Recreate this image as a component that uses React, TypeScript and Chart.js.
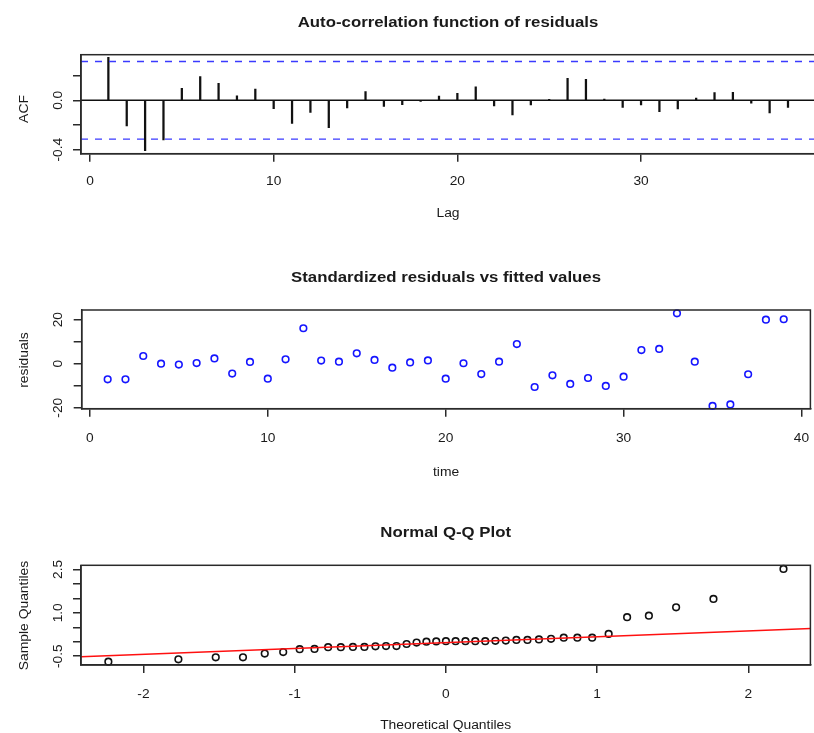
import React, { useEffect, useRef } from "react";
import { Chart, registerables } from "chart.js";

Chart.register(...registerables);

// ---------------- DATA ----------------
const acfLags = [1, 2, 3, 4, 5, 6, 7, 8, 9, 10, 11, 12, 13, 14, 15, 16, 17, 18, 19, 20, 21, 22, 23, 24, 25, 26, 27, 28, 29, 30, 31, 32, 33, 34, 35, 36, 37, 38];
const acfValues = [0.348, -0.208, -0.408, -0.321, 0.097, 0.191, 0.138, 0.037, 0.091, -0.068, -0.186, -0.097, -0.222, -0.062, 0.07, -0.049, -0.036, -0.01, 0.035, 0.057, 0.11, -0.046, -0.119, -0.038, 0.008, 0.178, 0.17, 0.01, -0.057, -0.038, -0.092, -0.07, 0.019, 0.062, 0.065, -0.024, -0.103, -0.057];
const acfConfLimit = 0.314;
const acfXTicks = [0, 10, 20, 30];
const acfXTickLabels = ["0", "10", "20", "30"];
const acfYTicks = [-0.4, -0.2, 0, 0.2];
const acfYTickLabels = ["-0.4", "", "0.0", ""];

const timeIndex = [1, 2, 3, 4, 5, 6, 7, 8, 9, 10, 11, 12, 13, 14, 15, 16, 17, 18, 19, 20, 21, 22, 23, 24, 25, 26, 27, 28, 29, 30, 31, 32, 33, 34, 35, 36, 37, 38, 39];
const residualValues = [-7.1, -7.1, 3.5, 0.0, -0.4, 0.3, 2.4, -4.5, 0.8, -6.8, 2.0, 16.1, 1.4, 0.9, 4.7, 1.7, -1.8, 0.6, 1.5, -6.8, 0.2, -4.7, 0.9, 8.9, -10.6, -5.3, -9.2, -6.5, -10.1, -5.9, 6.2, 6.7, 22.9, 0.9, -19.2, -18.5, -4.8, 20.0, 20.2];
const residXTicks = [0, 10, 20, 30, 40];
const residXTickLabels = ["0", "10", "20", "30", "40"];
const residYTicks = [-20, -10, 0, 10, 20];
const residYTickLabels = ["-20", "", "0", "", "20"];

const qqTheoretical = [-2.232, -1.769, -1.522, -1.342, -1.198, -1.076, -0.967, -0.869, -0.779, -0.695, -0.615, -0.539, -0.466, -0.396, -0.327, -0.26, -0.194, -0.129, -0.064, 0, 0.064, 0.129, 0.194, 0.26, 0.327, 0.396, 0.466, 0.539, 0.615, 0.695, 0.779, 0.869, 0.967, 1.076, 1.198, 1.342, 1.522, 1.769, 2.232];
const qqSample = [-0.69, -0.61, -0.54, -0.54, -0.41, -0.36, -0.26, -0.25, -0.19, -0.19, -0.18, -0.18, -0.16, -0.15, -0.15, -0.08, -0.03, 0.0, 0.01, 0.02, 0.02, 0.02, 0.02, 0.02, 0.03, 0.04, 0.06, 0.06, 0.08, 0.1, 0.14, 0.14, 0.14, 0.27, 0.85, 0.9, 1.19, 1.48, 2.52];
const qqLineX = [-2.5, 2.5];
const qqLineY = [-0.535, 0.475];
const qqXTicks = [-2, -1, 0, 1, 2];
const qqXTickLabels = ["-2", "-1", "0", "1", "2"];
const qqYTicks = [-0.5, 0, 0.5, 1, 1.5, 2, 2.5];
const qqYTickLabels = ["-0.5", "", "", "1.0", "", "", "2.5"];

// ---------------- STYLE / LAYOUT ----------------
const W = 816;
const AX = "#2a2a2a";
const TXT = "#1a1a1a";
const FAMILY = "'Liberation Sans', Arial, Helvetica, sans-serif";
const TITLE_FONT = `bold 15px ${FAMILY}`;
const TITLE_STRETCH = 1.12;
const LAB_FONT = `12.5px ${FAMILY}`;
const LAB_STRETCH = 1.11;
const TICK_FONT = `12.5px ${FAMILY}`;
const TICK_STRETCH = 1.1;
const Y_TICK_BASE_X = 61.7;
const Y_TITLE_BASE_X = 28.3;

type Area = { left: number; top: number; right: number; bottom: number };
type Panel = {
  top: number;
  height: number;
  area: Area;
  xMin: number; xMax: number; yMin: number; yMax: number;
  xTicks: number[]; xTickLabels: string[];
  yTicks: number[]; yTickLabels: string[];
  title: string; titleBase: number;
  xTitle: string; xTitleBase: number; xTickBase: number;
  yTitle: string; yTitleCY: number;
  type: "bar" | "scatter";
  datasets: () => any[];
};

const pts = (xs: number[], ys: number[]) => xs.map((x, i) => ({ x, y: ys[i] }));

const panels: Panel[] = [
  {
    top: 0, height: 245,
    area: { left: 81, top: 54.7, right: 815, bottom: 153.7 },
    xMin: -0.49, xMax: 39.47, yMin: -0.432, yMax: 0.369,
    xTicks: acfXTicks, xTickLabels: acfXTickLabels,
    yTicks: acfYTicks, yTickLabels: acfYTickLabels,
    title: "Auto-correlation function of residuals", titleBase: 26.6,
    xTitle: "Lag", xTitleBase: 217, xTickBase: 185,
    yTitle: "ACF", yTitleCY: 109,
    type: "bar",
    datasets: () => [
      {
        type: "line",
        data: pts([-0.49, 39.47], [0, 0]),
        borderColor: "#111", borderWidth: 1.5, pointRadius: 0,
      },
      {
        type: "line",
        data: pts([-0.49, 39.47], [acfConfLimit, acfConfLimit]),
        borderColor: "#3a3aff", borderWidth: 1.4, borderDash: [7, 7], pointRadius: 0,
      },
      {
        type: "line",
        data: pts([-0.49, 39.47], [-acfConfLimit, -acfConfLimit]),
        borderColor: "#3a3aff", borderWidth: 1.4, borderDash: [7, 7], pointRadius: 0,
      },
      {
        type: "bar",
        data: pts(acfLags, acfValues),
        backgroundColor: "#111", borderWidth: 0, barThickness: 1.6,
      },
    ],
  },
  {
    top: 245, height: 245,
    area: { left: 81.7, top: 310, right: 815, bottom: 408.7 },
    xMin: -0.46, xMax: 40.5, yMin: -20.45, yMax: 24.4,
    xTicks: residXTicks, xTickLabels: residXTickLabels,
    yTicks: residYTicks, yTickLabels: residYTickLabels,
    title: "Standardized residuals vs fitted values", titleBase: 281.8,
    xTitle: "time", xTitleBase: 475.6, xTickBase: 441.7,
    yTitle: "residuals", yTitleCY: 360,
    type: "scatter",
    datasets: () => [
      {
        type: "scatter",
        data: pts(timeIndex, residualValues),
        pointRadius: 3.3, pointBorderWidth: 1.6,
        pointBorderColor: "#1515ff", pointBackgroundColor: "rgba(0,0,0,0)",
        clip: false,
      },
    ],
  },
  {
    top: 490, height: 243,
    area: { left: 81, top: 565.3, right: 815, bottom: 665 },
    xMin: -2.413, xMax: 2.41, yMin: -0.806, yMax: 2.644,
    xTicks: qqXTicks, xTickLabels: qqXTickLabels,
    yTicks: qqYTicks, yTickLabels: qqYTickLabels,
    title: "Normal Q-Q Plot", titleBase: 537,
    xTitle: "Theoretical Quantiles", xTitleBase: 729.3, xTickBase: 698.3,
    yTitle: "Sample Quantiles", yTitleCY: 615.5,
    type: "scatter",
    datasets: () => [
      {
        type: "line",
        data: pts(qqLineX, qqLineY),
        borderColor: "#ff1010", borderWidth: 1.5, pointRadius: 0,
      },
      {
        type: "scatter",
        data: pts(qqTheoretical, qqSample),
        pointRadius: 3.3, pointBorderWidth: 1.6,
        pointBorderColor: "#111", pointBackgroundColor: "rgba(0,0,0,0)",
        clip: false,
      },
    ],
  },
];

function drawText(
  ctx: CanvasRenderingContext2D,
  text: string,
  x: number,
  y: number,
  font: string,
  stretch: number,
  rotate: boolean
) {
  if (!text) return;
  ctx.save();
  ctx.translate(x, y);
  if (rotate) ctx.rotate(-Math.PI / 2);
  ctx.scale(stretch, 1);
  ctx.font = font;
  ctx.fillStyle = TXT;
  ctx.textAlign = "center";
  ctx.textBaseline = "alphabetic";
  ctx.fillText(text, 0, 0);
  ctx.restore();
}

function framePlugin(p: Panel) {
  return {
    id: "rFrame",
    afterDraw(chart: any) {
      const { ctx, chartArea: a, scales } = chart;
      const xs = scales.x;
      const ys = scales.y;
      const off = p.top;
      ctx.save();
      ctx.strokeStyle = AX;
      ctx.lineWidth = 1.5;
      ctx.strokeRect(a.left, a.top, a.right - a.left, a.bottom - a.top);
      ctx.restore();
      p.xTicks.forEach((v, i) =>
        drawText(ctx, p.xTickLabels[i], xs.getPixelForValue(v), p.xTickBase - off, TICK_FONT, TICK_STRETCH, false)
      );
      p.yTicks.forEach((v, i) =>
        drawText(ctx, p.yTickLabels[i], Y_TICK_BASE_X, ys.getPixelForValue(v), TICK_FONT, TICK_STRETCH, true)
      );
      const cx = (a.left + a.right) / 2;
      drawText(ctx, p.title, cx, p.titleBase - off, TITLE_FONT, TITLE_STRETCH, false);
      drawText(ctx, p.xTitle, cx, p.xTitleBase - off, LAB_FONT, LAB_STRETCH, false);
      drawText(ctx, p.yTitle, Y_TITLE_BASE_X, p.yTitleCY - off, LAB_FONT, LAB_STRETCH, true);
    },
  };
}

function buildChart(canvas: HTMLCanvasElement, p: Panel) {
  const axisCommon = {
    type: "linear" as const,
    offset: false,
    grid: {
      display: true,
      drawOnChartArea: false,
      drawTicks: true,
      tickLength: 8,
      color: AX,
      lineWidth: 1.5,
      offset: false,
    },
    border: { display: true, color: AX, width: 1.5 },
    ticks: { display: false },
  };
  return new Chart(canvas, {
    type: p.type,
    data: { datasets: p.datasets() },
    options: {
      responsive: false,
      animation: false,
      events: [],
      layout: {
        padding: { left: 0, top: p.area.top - p.top, right: W - p.area.right, bottom: 0 },
      },
      plugins: {
        legend: { display: false },
        tooltip: { enabled: false },
        title: { display: false },
      },
      scales: {
        x: {
          ...axisCommon,
          position: "bottom",
          min: p.xMin,
          max: p.xMax,
          afterBuildTicks: (s: any) => {
            s.ticks = p.xTicks.map((v) => ({ value: v }));
          },
          afterFit: (s: any) => {
            s.height = p.top + p.height - p.area.bottom;
          },
        },
        y: {
          ...axisCommon,
          position: "left",
          min: p.yMin,
          max: p.yMax,
          afterBuildTicks: (s: any) => {
            s.ticks = p.yTicks.map((v) => ({ value: v }));
          },
          afterFit: (s: any) => {
            s.width = p.area.left;
          },
        },
      },
    } as any,
    plugins: [framePlugin(p)],
  } as any);
}

function PanelChart({ panel }: { panel: Panel }) {
  const ref = useRef<HTMLCanvasElement>(null);
  useEffect(() => {
    if (!ref.current) return;
    const chart = buildChart(ref.current, panel);
    return () => chart.destroy();
  }, [panel]);
  return (
    <canvas
      ref={ref}
      width={W}
      height={panel.height}
      style={{ position: "absolute", left: 0, top: panel.top, display: "block" }}
    />
  );
}

export default function App() {
  return (
    <div
      style={{
        position: "absolute",
        left: 0,
        top: 0,
        width: 814,
        height: 733,
        overflow: "hidden",
        background: "#fff",
      }}
    >
      {panels.map((p, i) => (
        <PanelChart key={i} panel={p} />
      ))}
    </div>
  );
}
